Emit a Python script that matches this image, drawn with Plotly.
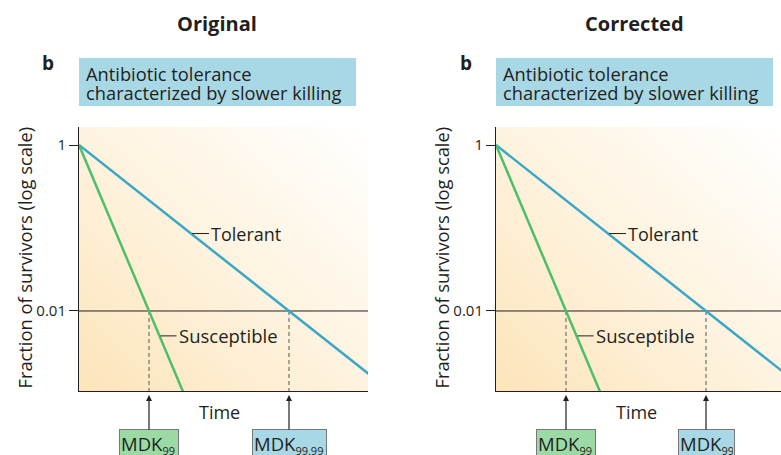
import numpy as np
import plotly.graph_objects as go

# ---------------- data ----------------
panel_titles = ["Original", "Corrected"]
panel_letter = "b"
box_title_lines = ["Antibiotic tolerance", "characterized by slower killing"]

# survival curves (log-linear killing), time in arbitrary units
susceptible_time = [0, 2]
susceptible_survivors = [1, 1e-4]
tolerant_time = [0, 6]
tolerant_survivors = [1, 1e-4]

threshold = 0.01
mdk_times = [1, 3]                       # susceptible, tolerant reach 0.01
mdk_subscripts = [["99", "99.99"], ["99", "99"]]
ytick_vals = [1, 0.01]
ytick_text = ["1", "0.01"]
y_title = "Fraction of survivors (log scale)"
x_title = "Time"
tolerant_label_t = 1.6
susceptible_label_t = 1.15

# ---------------- style ----------------
W, H = 781, 455
FONT = "Open Sans"
TXT = "#231f20"
BLUE = "#3ba7c7"
GREEN = "#4dbf6a"
BOXBLUE = "#a8d8e5"
BOXGREEN = "#9bdaa5"

px_per_t = 70.0
panels = [dict(x0=79, x1=368, off=0, boxw=[60, 75]),
          dict(x0=496, x1=781, off=417, boxw=[60, 57])]
plot_top, plot_bot = 127, 391
ylog_range = [-2.964, 0.217]

def px(v):  # paper x from pixel
    return v / W

def py(v):  # paper y from pixel (top-down)
    return 1 - v / H

def curve_y(t, ts, ys):
    return float(np.interp(t, ts, np.log10(ys)))

fig = go.Figure()
layout = dict(width=W, height=H, margin=dict(l=0, r=0, t=0, b=0),
              paper_bgcolor="white", plot_bgcolor="rgba(0,0,0,0)",
              showlegend=False, font=dict(family=FONT, color=TXT))
annotations = []
shapes = []

for i, p in enumerate(panels):
    bgx, bgy = f"x{2*i+1}", f"y{2*i+1}"
    dx, dy = f"x{2*i+2}", f"y{2*i+2}"
    dom_x = [px(p["x0"]), min(1, px(p["x1"]))]
    dom_y = [py(plot_bot), py(plot_top)]
    xr = [0, (p["x1"] - p["x0"]) / px_per_t]

    # gradient background
    fig.add_trace(go.Heatmap(x=[0, 1], y=[0, 1], z=[[1, 0.5], [0.5, 0]],
                             zsmooth="best", showscale=False, hoverinfo="skip",
                             colorscale=[[0, "#ffffff"], [0.5, "#fef3df"], [1, "#fde4ba"]],
                             zmin=0, zmax=1, xaxis=bgx, yaxis=bgy))
    layout[f"xaxis{2*i+1}"] = dict(domain=dom_x, range=[0, 1], visible=False, fixedrange=True,
                                   anchor=bgy)
    layout[f"yaxis{2*i+1}"] = dict(domain=dom_y, range=[0, 1], visible=False, fixedrange=True,
                                   anchor=bgx)

    # threshold line
    fig.add_trace(go.Scatter(x=[0, 100], y=[threshold, threshold], mode="lines",
                             line=dict(color=TXT, width=1), hoverinfo="skip",
                             xaxis=dx, yaxis=dy))
    # dashed verticals
    for t in mdk_times:
        fig.add_trace(go.Scatter(x=[t, t], y=[threshold, 1e-5], mode="lines",
                                 line=dict(color="#555555", width=1, dash="4px,3px"),
                                 hoverinfo="skip", xaxis=dx, yaxis=dy))
    fig.add_trace(go.Scatter(x=tolerant_time, y=tolerant_survivors, mode="lines",
                             line=dict(color=BLUE, width=2.5), xaxis=dx, yaxis=dy))
    fig.add_trace(go.Scatter(x=susceptible_time, y=susceptible_survivors, mode="lines",
                             line=dict(color=GREEN, width=2.5), xaxis=dx, yaxis=dy))

    layout[f"xaxis{2*i+2}"] = dict(overlaying=bgx, range=xr, showline=True, linecolor=TXT,
                                   linewidth=1, showgrid=False, zeroline=False,
                                   showticklabels=False, ticks="", anchor=dy, fixedrange=True)
    layout[f"yaxis{2*i+2}"] = dict(overlaying=bgy, type="log", range=ylog_range, showline=True,
                                   linecolor=TXT, linewidth=1, showgrid=False, zeroline=False,
                                   tickvals=ytick_vals, ticktext=ytick_text, ticks="outside",
                                   ticklen=9, tickcolor=TXT, tickfont=dict(size=15, color=TXT),
                                   anchor=dx, fixedrange=True)

    off = p["off"]
    # panel title
    annotations.append(dict(text=f"<b>{panel_titles[i]}</b>", x=px(217 + off), y=py(23),
                            xref="paper", yref="paper", xanchor="center", yanchor="middle",
                            showarrow=False, font=dict(size=20, color=TXT)))
    annotations.append(dict(text=f"<b>{panel_letter}</b>", x=px(48 + off + (1 if i else 0)),
                            y=py(63), xref="paper", yref="paper", xanchor="center",
                            yanchor="middle", showarrow=False, font=dict(size=19, color=TXT)))
    # blue header box
    shapes.append(dict(type="rect", xref="paper", yref="paper",
                       x0=px(p["x0"]), x1=px(p["x0"] + 277), y0=py(106), y1=py(58),
                       fillcolor=BOXBLUE, line=dict(width=0), layer="below"))
    for k, line in enumerate(box_title_lines):
        annotations.append(dict(text=line, x=px(p["x0"] + 5), y=py(73 + 20 * k),
                                xref="paper", yref="paper", xanchor="left", yanchor="middle",
                                showarrow=False, font=dict(size=18.3, color=TXT)))
    # y title
    annotations.append(dict(text=y_title, textangle=-90, x=px(23.5 + off), y=py(258),
                            xref="paper", yref="paper", xanchor="center", yanchor="middle",
                            showarrow=False, font=dict(size=18.3, color=TXT)))
    # x title
    annotations.append(dict(text=x_title, x=2.0, xref=dx, y=py(412), yref="paper",
                            xanchor="center", yanchor="middle",
                            showarrow=False, font=dict(size=18, color=TXT)))
    # curve labels
    annotations.append(dict(text="Tolerant", x=tolerant_label_t, xref=dx,
                            y=curve_y(tolerant_label_t, tolerant_time, tolerant_survivors),
                            yref=dy, xanchor="left", yanchor="middle", showarrow=True,
                            arrowhead=0, arrowwidth=1, arrowcolor=TXT, ax=18, ay=0, standoff=1,
                            font=dict(size=18, color=TXT)))
    annotations.append(dict(text="Susceptible", x=susceptible_label_t, xref=dx,
                            y=curve_y(susceptible_label_t, susceptible_time, susceptible_survivors),
                            yref=dy, xanchor="left", yanchor="middle", showarrow=True,
                            arrowhead=0, arrowwidth=1, arrowcolor=TXT, ax=17, ay=0, standoff=1,
                            font=dict(size=18.5, color=TXT)))
    # MDK arrows + boxes (box at arrow tail)
    box_h = 32
    for k, t in enumerate(mdk_times):
        total_h = box_h + 4
        label = ("MDK<sub><span style='font-size:11px'>" + mdk_subscripts[i][k]
                 + "</span></sub>")
        annotations.append(dict(text=label, x=t, xref=dx, y=py(395), yref="paper",
                                showarrow=True, arrowhead=2, arrowsize=1, arrowwidth=1.2,
                                arrowcolor=TXT, ax=0, ay=(429 - 395) + total_h / 2,
                                align="left", valign="top", width=p["boxw"][k] - 4,
                                height=box_h,
                                bgcolor=BOXGREEN if k == 0 else BOXBLUE, bordercolor="#777777",
                                borderwidth=1, borderpad=1,
                                font=dict(size=18.5, color=TXT)))

layout["annotations"] = annotations
layout["shapes"] = shapes
fig.update_layout(**layout)
fig.write_html("out.html", config={"displayModeBar": False},
               post_script="document.body.style.margin='0';document.body.style.padding='0';"
                           "document.documentElement.style.overflow='hidden';")
